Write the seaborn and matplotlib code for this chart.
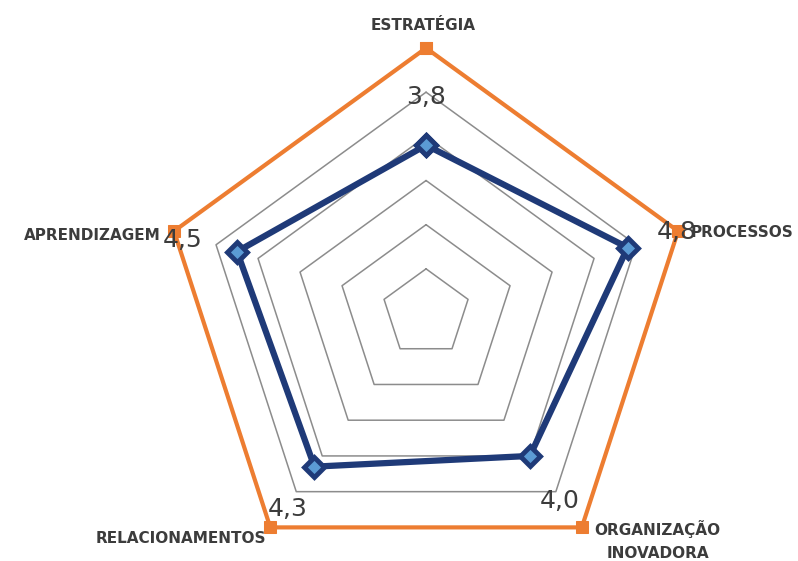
import numpy as np
import pandas as pd
import matplotlib
matplotlib.use("Agg")
import matplotlib.pyplot as plt
import seaborn as sns

# ── Data ──────────────────────────────────────────────────────
categories = ["ESTRATÉGIA", "PROCESSOS", "ORGANIZAÇÃO\nINOVADORA",
              "RELACIONAMENTOS", "APRENDIZAGEM"]
scores = [3.8, 4.8, 4.0, 4.3, 4.5]
max_scores = [6, 6, 6, 6, 6]
score_labels = ["3,8", "4,8", "4,0", "4,3", "4,5"]
grid_levels = [1, 2, 3, 4, 5, 6]

# ── Style ─────────────────────────────────────────────────────
sns.set_style("white")
plt.rcParams["font.family"] = ["DejaVu Sans"]

orange = "#ED7D31"
navy = "#1F3A78"
text_gray = "#3C3C3C"

n = len(categories)
angles = np.linspace(0, 2 * np.pi, n, endpoint=False)
df = pd.DataFrame({
    "theta": np.append(angles, 2 * np.pi),
    "score": scores + scores[:1],
    "max": max_scores + max_scores[:1],
})

fig = plt.figure(figsize=(7.98, 5.61), dpi=100)
# center of the radar sits at (426, 313) px, radius 265 px
ax = fig.add_axes([0.2018, -0.0303, 0.6642, 0.9447], projection="polar")
ax.set_theta_offset(np.pi / 2)
ax.set_theta_direction(-1)
ax.set_ylim(0, 6)
ax.grid(False)
ax.spines["polar"].set_visible(False)
ax.set_xticks([])
ax.set_yticks([])

# polygon gridlines
for lvl in grid_levels[:-1]:
    ax.plot(df["theta"], [lvl] * len(df), color="#8C8C8C", lw=1.1, zorder=1)

# outer (max) series
sns.lineplot(data=df, x="theta", y="max", sort=False, estimator=None,
             color=orange, lw=3, marker="s", markersize=8,
             markeredgecolor=orange, clip_on=False, ax=ax, zorder=3)

# score series
sns.lineplot(data=df, x="theta", y="score", sort=False, estimator=None,
             color=navy, lw=4.5, marker="D", markersize=10,
             markerfacecolor="#5B9BD5", markeredgecolor=navy,
             markeredgewidth=3.5, ax=ax, zorder=4)
ax.set_xlabel("")
ax.set_ylabel("")

# data labels (offsets in pixels from the outer vertex)
value_offsets = [(0, -49), (-1, -1), (-22, 26), (17, 18), (9, -9)]
for th, lab, off in zip(angles, score_labels, value_offsets):
    ax.annotate(lab, xy=(th, 6), xytext=off, textcoords="offset pixels",
                ha="center", va="center", fontsize=18, color=text_gray,
                zorder=5, annotation_clip=False)

# category labels
cat_offsets = [(-3, 23), (13, -1), (76, -13), (-4, -11), (-13, -4)]
cat_align = ["center", "left", "center", "right", "right"]
for th, lab, off, ha in zip(angles, categories, cat_offsets, cat_align):
    ax.annotate(lab, xy=(th, 6), xytext=off, textcoords="offset pixels",
                ha=ha, va="center", fontsize=11, fontweight="bold",
                color=text_gray, linespacing=1.7, zorder=5,
                annotation_clip=False)

fig.savefig("out.png", dpi=100)
